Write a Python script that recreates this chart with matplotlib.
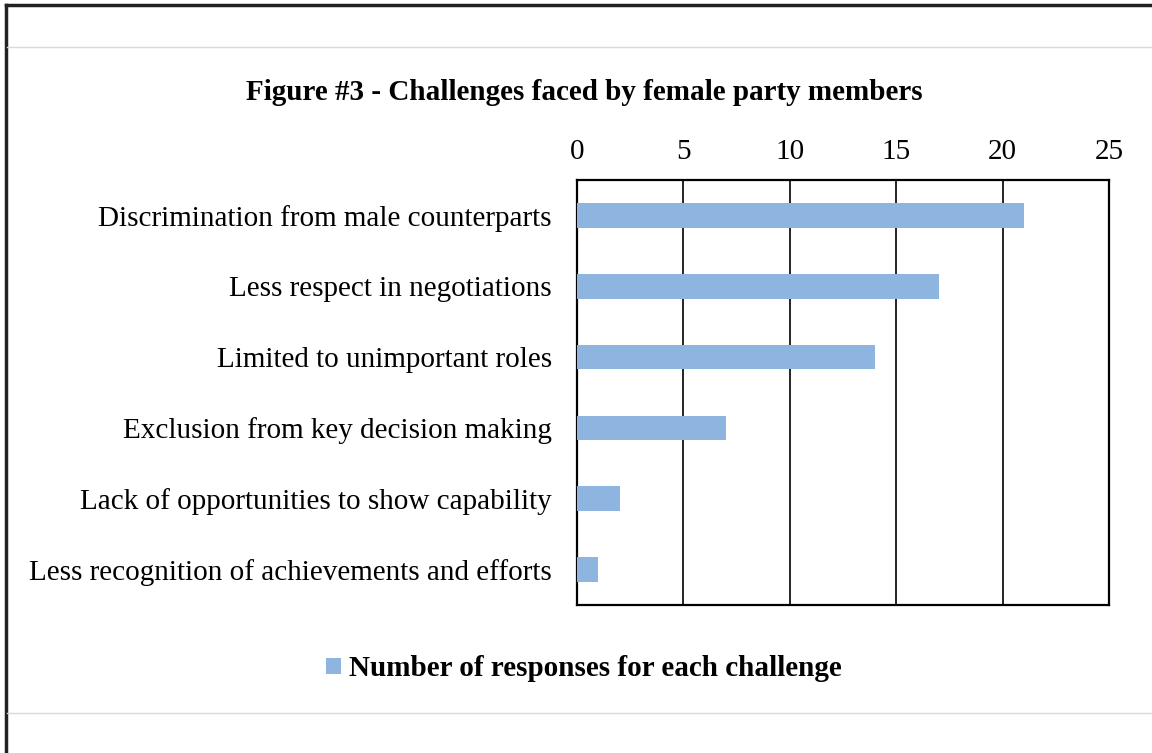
import matplotlib.pyplot as plt
from matplotlib.lines import Line2D
from matplotlib.patches import Patch

categories = ['Discrimination from male counterparts',
              'Less respect in negotiations',
              'Limited to unimportant roles',
              'Exclusion from key decision making',
              'Lack of opportunities to show capability',
              'Less recognition of achievements and efforts']
responses = [21, 17, 14, 7, 2, 1]
xticks = [0, 5, 10, 15, 20, 25]

plt.rcParams['font.family'] = ['Liberation Serif', 'DejaVu Serif']

fig = plt.figure(figsize=(11.52, 7.53), dpi=100)
ax = fig.add_axes([577/1152, 1-605/753, (1109-577)/1152, (605-180)/753])

bar_color = '#8EB4E0'
ypos = range(len(categories))
ax.barh(ypos, responses, height=0.35, color=bar_color, zorder=3)
ax.set_ylim(len(categories)-0.5, -0.5)
ax.set_yticks(list(ypos))
ax.set_yticklabels(categories, fontsize=21)
ax.set_xlim(0, 25)
ax.set_xticks(xticks)
ax.set_xticklabels([str(t) for t in xticks], fontsize=21)
ax.xaxis.tick_top()
ax.tick_params(axis='both', length=0)
ax.tick_params(axis='x', pad=11)
ax.tick_params(axis='y', pad=18)
ax.grid(axis='x', color='black', linewidth=1.2, zorder=1)
for s in ax.spines.values():
    s.set_linewidth(1.6)
    s.set_color('black')

fig.text(584/1152, 1-93/753, 'Figure #3 - Challenges faced by female party members',
         ha='center', va='center', fontsize=21, fontweight='bold')

handle = Patch(facecolor=bar_color, edgecolor='none')
fig.legend([handle], ['Number of responses for each challenge'],
           loc='center', bbox_to_anchor=(584/1152, 1-669/753), frameon=False,
           prop={'size': 21, 'weight': 'bold'}, handlelength=0.5, handleheight=0.5,
           handletextpad=0.3)

# outer frame and separator lines
fig.add_artist(Line2D([6/1152, 6/1152], [0, 1-5/753], color='#222222', lw=2.5))
fig.add_artist(Line2D([6/1152, 1], [1-5/753, 1-5/753], color='#222222', lw=2.5))
fig.add_artist(Line2D([7/1152, 1], [1-47/753, 1-47/753], color='#d9d9d9', lw=1))
fig.add_artist(Line2D([7/1152, 1], [1-713/753, 1-713/753], color='#d9d9d9', lw=1))

fig.savefig('out.png', dpi=100)
